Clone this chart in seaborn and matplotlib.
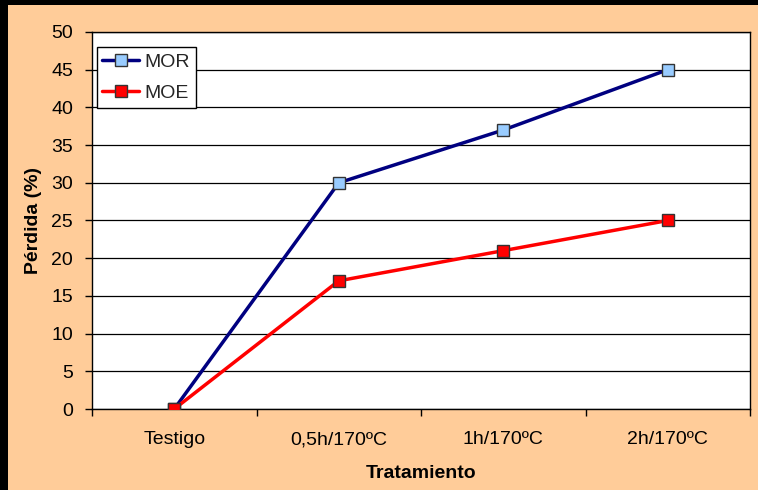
import matplotlib
matplotlib.use('Agg')
import matplotlib.pyplot as plt
import seaborn as sns
import pandas as pd
from matplotlib.patches import Rectangle

categories = ['Testigo', '0,5h/170ºC', '1h/170ºC', '2h/170ºC']
mor = [0, 30, 37, 45]
moe = [0, 17, 21, 25]

df = pd.DataFrame({
    'pos': list(range(len(categories))) * 2,
    'Pérdida': mor + moe,
    'serie': ['MOR'] * len(mor) + ['MOE'] * len(moe),
})

sns.set_theme(style='white')
plt.rcParams['font.family'] = ['Liberation Sans', 'DejaVu Sans']

fig = plt.figure(figsize=(7.58, 4.90), dpi=100, facecolor='#FFCC99')
ax = fig.add_axes([92 / 758, 1 - 409 / 490, 658 / 758, 377 / 490])
ax.set_facecolor('white')

styles = {
    'MOR': dict(line='#000080', face='#99CCFF'),
    'MOE': dict(line='#FF0000', face='#FF0000'),
}
for name in ['MOR', 'MOE']:
    sub = df[df['serie'] == name]
    sns.lineplot(data=sub, x='pos', y='Pérdida', ax=ax, color=styles[name]['line'],
                 linewidth=2.5, marker='s', markersize=9,
                 markerfacecolor=styles[name]['face'], markeredgecolor='#333333',
                 markeredgewidth=1, label=name, zorder=3)

ax.set_xlim(-0.5, len(categories) - 0.5)
ax.set_ylim(0, 50)
ax.set_yticks(range(0, 51, 5))
ax.set_xticks(range(len(categories)))
ax.set_xticklabels(categories)
ax.set_xticks([i - 0.5 for i in range(len(categories) + 1)], minor=True)
ax.tick_params(axis='x', which='major', length=0, pad=16, labelsize=14, colors='black')
ax.tick_params(axis='x', which='minor', length=5, width=1, color='black', direction='out', bottom=True)
ax.tick_params(axis='y', length=5, width=1, color='black', direction='out', left=True,
               labelsize=14, pad=8.5, colors='black')
ax.grid(axis='y', color='black', linewidth=0.9)
ax.set_axisbelow(True)
for sp in ax.spines.values():
    sp.set_color('black')
    sp.set_linewidth(1)

ax.set_xlabel('Tratamiento', fontsize=14, fontweight='bold', color='black', labelpad=12)
ax.set_ylabel('Pérdida (%)', fontsize=14, fontweight='bold', color='black', labelpad=7)

leg = ax.legend(loc='upper left', bbox_to_anchor=(0.007, 0.96), fontsize=14,
                frameon=True, fancybox=False, handlelength=1.9, handletextpad=0.25,
                borderpad=0.3, labelspacing=0.7, borderaxespad=0)
leg.get_frame().set_edgecolor('black')
leg.get_frame().set_linewidth(1)
leg.get_frame().set_facecolor('white')
leg.get_frame().set_alpha(1)

# black strips at left and top edge
fig.patches.append(Rectangle((0, 0), 8 / 758, 1, transform=fig.transFigure,
                             facecolor='black', edgecolor='none', zorder=10))
fig.patches.append(Rectangle((0, 1 - 5 / 490), 1, 5 / 490, transform=fig.transFigure,
                             facecolor='black', edgecolor='none', zorder=10))

fig.savefig('out.png', dpi=100, facecolor=fig.get_facecolor())
